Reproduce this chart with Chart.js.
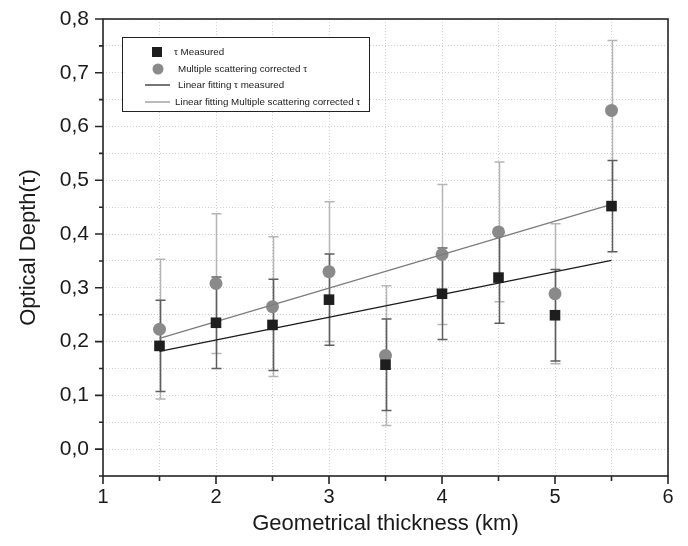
<!DOCTYPE html>
<html>
<head>
<meta charset="utf-8">
<title>Optical depth vs geometrical thickness</title>
<script src="https://cdn.jsdelivr.net/npm/chart.js@4.4.1/dist/chart.umd.min.js"></script>
<style>
  html, body { margin: 0; padding: 0; background: #fff; }
  #wrap { width: 688px; height: 546px; }
</style>
</head>
<body>
<div id="wrap"><canvas id="depthChart"></canvas></div>
<script>
// cloud layer thickness (km) and optical depth with its uncertainty
const thickness = [1.5, 2, 2.5, 3, 3.5, 4, 4.5, 5, 5.5];
const tauMeasured = [0.192, 0.235, 0.231, 0.278, 0.157, 0.289, 0.319, 0.249, 0.452];
const tauMeasuredErr = [0.085, 0.085, 0.085, 0.085, 0.085, 0.085, 0.085, 0.085, 0.085];
const tauCorrected = [0.223, 0.308, 0.265, 0.330, 0.174, 0.362, 0.404, 0.289, 0.630];
const tauCorrectedErr = [0.13, 0.13, 0.13, 0.13, 0.13, 0.13, 0.13, 0.13, 0.13];

// end points of the two linear fits
const fitX = [1.5, 5.5];
const fitMeasured = [0.182, 0.351];
const fitCorrected = [0.206, 0.455];

const legendLabels = [
  'τ Measured',
  'Multiple scattering corrected τ',
  'Linear fitting τ measured',
  'Linear fitting Multiple scattering corrected τ'
];

const FONT = "'Liberation Sans', Arial, Helvetica, sans-serif";
const toPoints = (xs, ys) => xs.map((x, i) => ({ x: x, y: ys[i] }));

// vertical error bars with caps, drawn under the markers
const errorBars = {
  id: 'errorBars',
  beforeDatasetsDraw(chart) {
    const ctx = chart.ctx;
    const sx = chart.scales.x, sy = chart.scales.y;
    const draw = (vals, errs, color) => {
      ctx.save();
      ctx.strokeStyle = color;
      ctx.lineWidth = 1.5;
      thickness.forEach((t, i) => {
        const px = Math.round(sx.getPixelForValue(t)) + 0.5;
        const top = sy.getPixelForValue(vals[i] + errs[i]);
        const bot = sy.getPixelForValue(vals[i] - errs[i]);
        ctx.beginPath();
        ctx.moveTo(px, top); ctx.lineTo(px, bot);
        ctx.moveTo(px - 5, top); ctx.lineTo(px + 5, top);
        ctx.moveTo(px - 5, bot); ctx.lineTo(px + 5, bot);
        ctx.stroke();
      });
      ctx.restore();
    };
    draw(tauCorrected, tauCorrectedErr, '#b5b5b5');
    draw(tauMeasured, tauMeasuredErr, '#5e5e5e');
  }
};

// box frame, outward tick marks and the boxed legend
const frameAndLegend = {
  id: 'frameAndLegend',
  afterDraw(chart) {
    const ctx = chart.ctx;
    const a = chart.chartArea;
    const sx = chart.scales.x, sy = chart.scales.y;
    ctx.save();
    ctx.strokeStyle = '#262626';
    ctx.lineWidth = 1.6;
    ctx.strokeRect(a.left, a.top, a.right - a.left, a.bottom - a.top);

    ctx.beginPath();
    sy.ticks.forEach(t => {
      const py = sy.getPixelForValue(t.value);
      const major = Math.round(t.value * 20) % 2 === 0;
      ctx.moveTo(a.left - (major ? 8 : 4), py);
      ctx.lineTo(a.left, py);
    });
    sx.ticks.forEach(t => {
      const px = sx.getPixelForValue(t.value);
      const major = Math.abs(t.value - Math.round(t.value)) < 1e-6;
      ctx.moveTo(px, a.bottom);
      ctx.lineTo(px, a.bottom + (major ? 8 : 5));
    });
    ctx.stroke();

    // legend box
    const lx = 122, ly = 37, lw = 247, lh = 74;
    ctx.fillStyle = '#fff';
    ctx.fillRect(lx, ly, lw, lh);
    ctx.strokeStyle = '#222';
    ctx.lineWidth = 1;
    ctx.strokeRect(lx + 0.5, ly + 0.5, lw, lh);

    const rows = [52, 69, 85, 102];
    ctx.fillStyle = '#1e1e1e';
    ctx.fillRect(152, rows[0] - 5, 10, 10);
    ctx.fillStyle = '#8a8a8a';
    ctx.beginPath();
    ctx.arc(158, rows[1], 5.5, 0, Math.PI * 2);
    ctx.fill();
    ctx.lineWidth = 1.2;
    ctx.strokeStyle = '#1a1a1a';
    ctx.beginPath(); ctx.moveTo(145, rows[2]); ctx.lineTo(170, rows[2]); ctx.stroke();
    ctx.strokeStyle = '#8a8a8a';
    ctx.beginPath(); ctx.moveTo(145, rows[3]); ctx.lineTo(170, rows[3]); ctx.stroke();

    ctx.fillStyle = '#1a1a1a';
    ctx.font = '9.8px ' + FONT;
    ctx.textBaseline = 'middle';
    const textX = [174, 178, 178, 175];
    legendLabels.forEach((s, i) => ctx.fillText(s, textX[i], rows[i]));
    ctx.restore();
  }
};

const ctx = document.getElementById('depthChart').getContext('2d');
const depthChart = new Chart(ctx, {
  type: 'scatter',
  data: {
    datasets: [
      {
        label: legendLabels[0],
        data: toPoints(thickness, tauMeasured),
        pointStyle: 'rect',
        pointRadius: 7.5,
        backgroundColor: '#1e1e1e',
        borderColor: '#1e1e1e',
        borderWidth: 0,
        order: 0
      },
      {
        label: legendLabels[2],
        type: 'line',
        data: toPoints(fitX, fitMeasured),
        borderColor: '#1a1a1a',
        borderWidth: 1.3,
        pointRadius: 0,
        fill: false,
        order: 1
      },
      {
        label: legendLabels[3],
        type: 'line',
        data: toPoints(fitX, fitCorrected),
        borderColor: '#7c7c7c',
        borderWidth: 1.3,
        pointRadius: 0,
        fill: false,
        order: 1
      },
      {
        label: legendLabels[1],
        data: toPoints(thickness, tauCorrected),
        pointStyle: 'circle',
        pointRadius: 6.5,
        backgroundColor: '#8a8a8a',
        borderColor: '#8a8a8a',
        borderWidth: 0,
        order: 2
      }
    ]
  },
  options: {
    responsive: true,
    maintainAspectRatio: false,
    animation: false,
    layout: { padding: { left: 0, top: 19, right: 20, bottom: 0 } },
    plugins: {
      legend: { display: false },
      tooltip: { enabled: false }
    },
    scales: {
      x: {
        type: 'linear',
        min: 1,
        max: 6,
        afterFit: s => { s.height = 70; },
        ticks: {
          stepSize: 0.5,
          autoSkip: false,
          maxRotation: 0,
          color: '#1a1a1a',
          padding: 9,
          font: { family: FONT, size: 20 },
          callback: v => (Math.abs(v - Math.round(v)) < 1e-6 ? String(Math.round(v)) : '')
        },
        grid: { color: '#d0d0d0', lineWidth: 1, drawTicks: false },
        border: { display: false, dash: [1, 2] },
        title: {
          display: true,
          text: 'Geometrical thickness (km)',
          color: '#1a1a1a',
          font: { family: FONT, size: 22 },
          padding: { top: 0, bottom: 9 }
        }
      },
      y: {
        type: 'linear',
        min: -0.05,
        max: 0.8,
        afterFit: s => {
          s.width = 103;
          s.paddingTop = 0;
          s.paddingBottom = 0;
        },
        ticks: {
          stepSize: 0.05,
          autoSkip: false,
          color: '#1a1a1a',
          padding: 14,
          font: { family: FONT, size: 21 },
          callback: v => {
            const k = Math.round(v * 20);
            return k % 2 === 0 ? (k / 20).toFixed(1).replace('.', ',') : '';
          }
        },
        grid: { color: '#d0d0d0', lineWidth: 1, drawTicks: false },
        border: { display: false, dash: [1, 2] },
        title: {
          display: true,
          text: 'Optical Depth(τ)',
          color: '#1a1a1a',
          font: { family: FONT, size: 22 },
          padding: { top: 16, bottom: 0 }
        }
      }
    }
  },
  plugins: [errorBars, frameAndLegend]
});
</script>
</body>
</html>
